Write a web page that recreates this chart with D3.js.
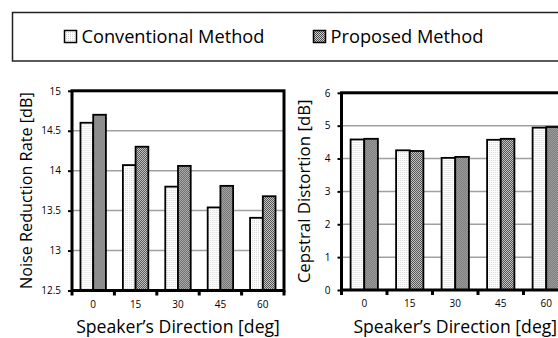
<!DOCTYPE html>
<html><head><meta charset="utf-8">
<script src="https://cdn.jsdelivr.net/npm/d3@7"></script>
<style>body{margin:0;background:#fff}svg{display:block}text{font-family:"Open Sans",sans-serif;fill:#000}</style>
</head><body><svg id="c" width="558" height="338"></svg>
<script>
const categories = ["0","15","30","45","60"];
const seriesNames = ["Conventional Method","Proposed Method"];
const noiseConventional = [14.60,14.07,13.80,13.54,13.41];
const noiseProposed     = [14.70,14.30,14.06,13.81,13.68];
const cepConventional   = [4.58,4.25,4.02,4.57,4.94];
const cepProposed       = [4.60,4.23,4.05,4.60,4.96];
const noiseTicks = [12.5,13,13.5,14,14.5,15];
const cepTicks = [0,1,2,3,4,5,6];

const svg = d3.select("#c");
const defs = svg.append("defs");
const p1 = defs.append("pattern").attr("id","pConv").attr("patternUnits","userSpaceOnUse").attr("width",2).attr("height",2);
p1.append("rect").attr("width",2).attr("height",2).attr("fill","#ffffff");
p1.append("rect").attr("width",1).attr("height",1).attr("fill","#d6d6d6");
const p2 = defs.append("pattern").attr("id","pProp").attr("patternUnits","userSpaceOnUse").attr("width",2).attr("height",2);
p2.append("rect").attr("width",2).attr("height",2).attr("fill","#cfcfcf");
p2.append("rect").attr("width",1).attr("height",1).attr("fill","#4a4a4a");
p2.append("rect").attr("x",1).attr("y",1).attr("width",1).attr("height",1).attr("fill","#4a4a4a");
const fills = ["url(#pConv)","url(#pProp)"];

function fitText(sel, target){
  const n = sel.node(); const base = parseFloat(sel.attr("font-size"));
  const w = n.getComputedTextLength();
  sel.attr("font-size", base*target/w);
}

svg.append("rect").attr("x",12.5).attr("y",12.5).attr("width",600).attr("height",48.5)
  .attr("fill","none").attr("stroke","#222").attr("stroke-width",1.5);
const legX = [64.5, 313.5];
const legW = [183, 153];
seriesNames.forEach((s,i)=>{
  svg.append("rect").attr("x",legX[i]).attr("y",30.5).attr("width",12).attr("height",12)
    .attr("fill",fills[i]).attr("stroke","#000").attr("stroke-width",1.5);
  const t = svg.append("text").attr("x",legX[i]+17).attr("y",43).attr("font-size",16).text(s);
  fitText(t, legW[i]);
});

function chart(o){
  const g = svg.append("g");
  const x0 = d3.scaleBand().domain(categories).range(o.xr).paddingInner(0.4).paddingOuter(0.2);
  const x1 = d3.scaleBand().domain([0,1]).range([0,x0.bandwidth()]);
  const y = d3.scaleLinear().domain(o.yd).range(o.yr);
  g.selectAll(".grid").data(o.ticks.slice(1,-1)).join("line")
    .attr("x1",o.xr[0]).attr("x2",o.xr[1]).attr("y1",d=>y(d)).attr("y2",d=>y(d))
    .attr("stroke","#a0a0a0").attr("stroke-width",1.5);
  const data = categories.map((c,i)=>({c, v:[o.a[i],o.b[i]]}));
  g.selectAll(".grp").data(data).join("g").attr("transform",d=>`translate(${x0(d.c)},0)`)
    .selectAll("rect").data(d=>d.v.map((v,k)=>({v,k}))).join("rect")
    .attr("x",d=>x1(d.k)).attr("width",x1.bandwidth())
    .attr("y",d=>y(d.v)).attr("height",d=>y(o.yd[0])-y(d.v))
    .attr("fill",d=>fills[d.k]).attr("stroke","#000").attr("stroke-width",1.8);
  g.append("rect").attr("x",o.xr[0]).attr("y",o.yr[1]).attr("width",o.xr[1]-o.xr[0]).attr("height",o.yr[0]-o.yr[1])
    .attr("fill","none").attr("stroke","#000").attr("stroke-width",3);
  const ya = d3.axisLeft(y).tickValues(o.ticks).tickSize(4).tickPadding(7).tickFormat(d3.format(o.fmt));
  const yg = g.append("g").attr("transform",`translate(${o.xr[0]},0)`).call(ya);
  yg.select(".domain").remove();
  yg.selectAll("line").attr("stroke","#000").attr("stroke-width",2);
  yg.selectAll("text").attr("font-size",10).attr("font-family","'Open Sans',sans-serif").attr("fill","#000");
  const xa = d3.axisBottom(x0).tickSize(0).tickPadding(10);
  const xg = g.append("g").attr("transform",`translate(0,${o.yr[0]})`).call(xa);
  xg.select(".domain").remove();
  xg.selectAll("text").attr("font-size",10).attr("font-family","'Open Sans',sans-serif").attr("fill","#000");
  const step = x0.step();
  g.selectAll(".bt").data(d3.range(categories.length+1)).join("line")
    .attr("x1",i=>o.xr[0]+i*step).attr("x2",i=>o.xr[0]+i*step)
    .attr("y1",o.yr[0]).attr("y2",o.yr[0]+5).attr("stroke","#000").attr("stroke-width",3);
  const xt = g.append("text").attr("x",(o.xr[0]+o.xr[1])/2).attr("y",332.5).attr("text-anchor","middle")
    .attr("font-size",15).text("Speaker\u2019s Direction [deg]");
  fitText(xt, 204);
  const yt = g.append("text").attr("transform",`translate(${o.ytx},${(o.yr[0]+o.yr[1])/2}) rotate(-90)`)
    .attr("text-anchor","middle").attr("font-size",14).text(o.ytitle);
  fitText(yt, o.ytw);
}

chart({xr:[72,284], yr:[290.5,90.8], yd:[12.5,15], ticks:noiseTicks, fmt:"", a:noiseConventional, b:noiseProposed,
  ytitle:"Noise Reduction Rate [dB]", ytx:32, ytw:197});
chart({xr:[341.5,569], yr:[290,92.8], yd:[0,6], ticks:cepTicks, fmt:"d", a:cepConventional, b:cepProposed,
  ytitle:"Cepstral Distortion [dB]", ytx:310, ytw:184});
</script></body></html>
